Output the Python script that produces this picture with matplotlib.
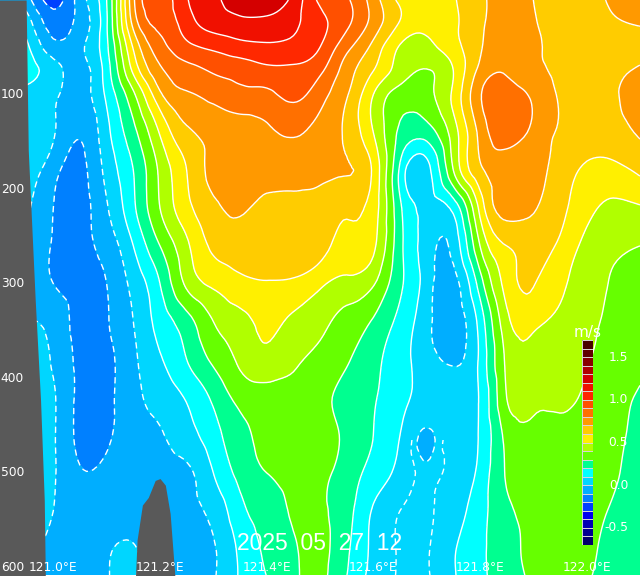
import numpy as np
import matplotlib
matplotlib.use("Agg")
import matplotlib.pyplot as plt
import matplotlib.tri as mtri
from matplotlib.colors import ListedColormap, BoundaryNorm
from matplotlib.patches import Rectangle

lons = [120.90, 120.95, 121.00, 121.05, 121.10, 121.15, 121.20, 121.25, 121.30, 121.35, 121.40, 121.45,
        121.50, 121.55, 121.60, 121.65, 121.70, 121.75, 121.80, 121.85, 121.90, 121.95, 122.00, 122.05, 122.10]
depths = [0, 25, 50, 75, 100, 140, 180, 220, 260, 300, 340, 380, 420, 460, 500, 540, 580, 610]

d000 = [-.05,-.06,-.24,-.05,.20,.78,.96,1.09,1.18,1.26,1.27,1.17,.98,.91,.75,.58,.53,.59,.68,.73,.70,.67,.66,.72,.74]
d025 = [.06,.05,-.15,-.06,.19,.73,.93,1.05,1.14,1.17,1.17,1.12,1.03,.92,.76,.59,.52,.58,.68,.75,.71,.66,.65,.68,.71]
d050 = [.14,.12,-.06,-.02,.18,.61,.86,.97,1.02,1.06,1.08,1.07,1.00,.83,.67,.49,.47,.56,.69,.76,.72,.67,.65,.64,.65]
d075 = [.15,.14,.04,-.03,.15,.52,.78,.86,.91,.94,.97,.98,.92,.75,.60,.45,.395,.50,.73,.79,.73,.68,.65,.67,.72]
d100 = [.08,.07,.02,-.04,.12,.38,.68,.79,.83,.87,.88,.925,.84,.71,.50,.36,.37,.52,.79,.85,.78,.69,.66,.69,.74]
d140 = [.06,.05,.01,-.09,.07,.27,.51,.68,.73,.75,.78,.81,.77,.68,.50,.28,.25,.45,.73,.86,.77,.69,.66,.67,.71]
d180 = [.03,.03,-.06,-.13,.03,.20,.42,.60,.73,.74,.74,.75,.73,.705,.58,.18,.06,.40,.68,.74,.72,.66,.58,.57,.62]
d220 = [.02,.01,-.10,-.14,-.01,.18,.40,.57,.68,.71,.68,.67,.66,.62,.55,.22,.07,.13,.53,.74,.71,.63,.53,.48,.49]
d260 = [-.02,-.02,-.11,-.13,-.06,.10,.30,.48,.62,.66,.68,.67,.64,.57,.52,.23,.05,.03,.40,.60,.64,.58,.47,.42,.40]
d300 = [-.02,-.02,-.10,-.13,-.10,.03,.20,.42,.52,.57,.59,.58,.52,.47,.41,.22,.05,-.035,.25,.54,.605,.52,.45,.39,.36]
d340 = [0,0,-.03,-.14,-.11,0,.14,.26,.40,.47,.52,.48,.43,.36,.29,.17,.03,-.045,.14,.47,.53,.48,.43,.38,.34]
d380 = [.01,.01,-.01,-.13,-.13,-.02,.09,.20,.32,.42,.47,.42,.37,.31,.23,.14,.04,-.015,.12,.42,.45,.44,.41,.36,.32]
d420 = [.02,.02,.01,-.13,-.13,-.03,.04,.11,.22,.33,.36,.37,.33,.27,.21,.13,.07,.06,.11,.40,.43,.42,.38,.33,.29]
d460 = [.03,.03,.01,-.13,-.12,-.05,-.01,.06,.16,.27,.33,.36,.34,.28,.20,.10,-.012,.05,.11,.33,.37,.37,.35,.32,.27]
d500 = [.03,.03,.01,-.09,-.08,-.07,-.04,-.02,.10,.23,.30,.33,.32,.26,.16,.07,.012,.035,.13,.31,.35,.36,.34,.31,.26]
d540 = [.02,.02,0,-.05,-.07,-.07,-.06,-.03,.03,.17,.25,.31,.31,.24,.09,.024,.016,.06,.16,.28,.33,.35,.33,.29,.24]
d580 = [.02,.01,-.02,-.06,-.02,.01,-.07,-.05,-.01,.12,.22,.29,.32,.22,.08,.018,.018,.09,.18,.26,.33,.35,.32,.27,.22]
d610 = [.01,.01,-.04,-.07,-.01,.01,-.06,-.05,-.01,.11,.20,.28,.32,.20,.07,.018,.018,.09,.18,.25,.32,.35,.31,.26,.21]

coast_depth = [0, 159, 317, 423, 529, 610]
coast_lon = [120.949, 120.953, 120.966, 120.976, 120.983, 120.985]
ridge_lon = [121.154, 121.157, 121.167, 121.178, 121.191, 121.200, 121.210, 121.219, 121.228]
ridge_depth = [610, 571, 534, 526, 508, 506, 513, 543, 610]

levels = [round(-0.7 + 0.1 * i, 1) for i in range(25)]
colors = ['#00006a', '#000090', '#0000b4', '#0000f0', '#0040ff', '#0080ff', '#00aeff', '#00d6ff',
          '#00ffff', '#00ff90', '#66ff00', '#b0ff00', '#fff000', '#ffcc00', '#ff9900', '#ff7000',
          '#ff5000', '#ff2800', '#f01000', '#d40000', '#b00000', '#880000', '#600000', '#480000']

xtick_vals = [121.0, 121.2, 121.4, 121.6, 121.8, 122.0]
xtick_text = ['121.0°E', '121.2°E', '121.4°E', '121.6°E', '121.8°E', '122.0°E']
ytick_vals = [100, 200, 300, 400, 500, 600]
cbar_vals = [-0.5, 0.0, 0.5, 1.0, 1.5]
stamp = '2025  05  27  12'

speed = np.array([d000, d025, d050, d075, d100, d140, d180, d220, d260, d300, d340, d380,
                  d420, d460, d500, d540, d580, d610])
cmap = ListedColormap(colors)
norm = BoundaryNorm(levels, cmap.N, clip=True)
land = '#595959'

# smooth the contours with matplotlib's own cubic triangulation refiner
nj, ni = speed.shape
lon2d, dep2d = np.meshgrid(lons, depths)
tris = []
for j in range(nj - 1):
    for i in range(ni - 1):
        a = j * ni + i
        tris += [[a, a + 1, a + ni], [a + 1, a + ni + 1, a + ni]]
tri = mtri.Triangulation(lon2d.ravel(), dep2d.ravel() / 500.0, tris)
tri_f, z_f = mtri.UniformTriRefiner(tri).refine_field(speed.ravel(), subdiv=3)
tri_f = mtri.Triangulation(tri_f.x, tri_f.y * 500.0, tri_f.triangles)

fig = plt.figure(figsize=(6.4, 5.77), dpi=100, facecolor='white')
ax = fig.add_axes([0, 2 / 577, 1, 575 / 577])
ax.tricontourf(tri_f, z_f, levels=levels, cmap=cmap, norm=norm, extend='both')
dash = (0, (4.5, 3))
styles = [dash if v <= 0 else 'solid' for v in levels]
ax.tricontour(tri_f, z_f, levels=levels, colors='white', linewidths=1.0, linestyles=styles)
# near-zero dashed branch running down the lower water column, where the fill stays just above zero
near_zero = ax.tricontour(tri_f, z_f, levels=[0.024], colors='white', linewidths=1.0, linestyles=[dash])
near_zero.set_clip_path(Rectangle((121.61, 465), 0.13, 150, transform=ax.transData))
ax.fill_betweenx(coast_depth, 120.8, coast_lon, color=land, lw=0, zorder=3)
ax.fill_between(ridge_lon, ridge_depth, 610, color=land, lw=0, zorder=3)
ax.set_xlim(120.9, 122.1)
ax.set_ylim(608, 0)
ax.axis('off')

tick_font = dict(color='white', fontsize=8.8, family='DejaVu Sans', zorder=6)
for v in ytick_vals:
    ax.text(120.945, v, str(v), ha='right', va='center', **tick_font)
for v, t in zip(xtick_vals, xtick_text):
    ax.text(v, 600, t, ha='center', va='center', **tick_font)
ax.text(121.5, 575, stamp, color='white', fontsize=16.5, family='Liberation Sans',
        ha='center', va='center', zorder=6)

cax = fig.add_axes([582 / 640, 1 - 545 / 577, 11 / 640, 205 / 577])
edges = np.array(levels)
cax.pcolormesh([0, 1], edges, edges[:-1, None] + 0.05, cmap=cmap, norm=norm)
cax.hlines(edges, 0, 1, color='#d8d8d8', lw=0.7)
cax.vlines([0, 1], edges[0], edges[-1], color='#d8d8d8', lw=0.7)
cax.set_xlim(0, 1)
cax.set_ylim(levels[0], levels[-1])
cax.axis('off')
for v in cbar_vals:
    cax.text(4.2, v, f'{v:.1f}', color='white', fontsize=8.8, ha='right', va='center', clip_on=False)
cax.text(0.5, levels[-1] + 0.0, 'm/s', color='white', fontsize=11, ha='center', va='bottom', clip_on=False)

fig.savefig('out.png', dpi=100, facecolor='white')
